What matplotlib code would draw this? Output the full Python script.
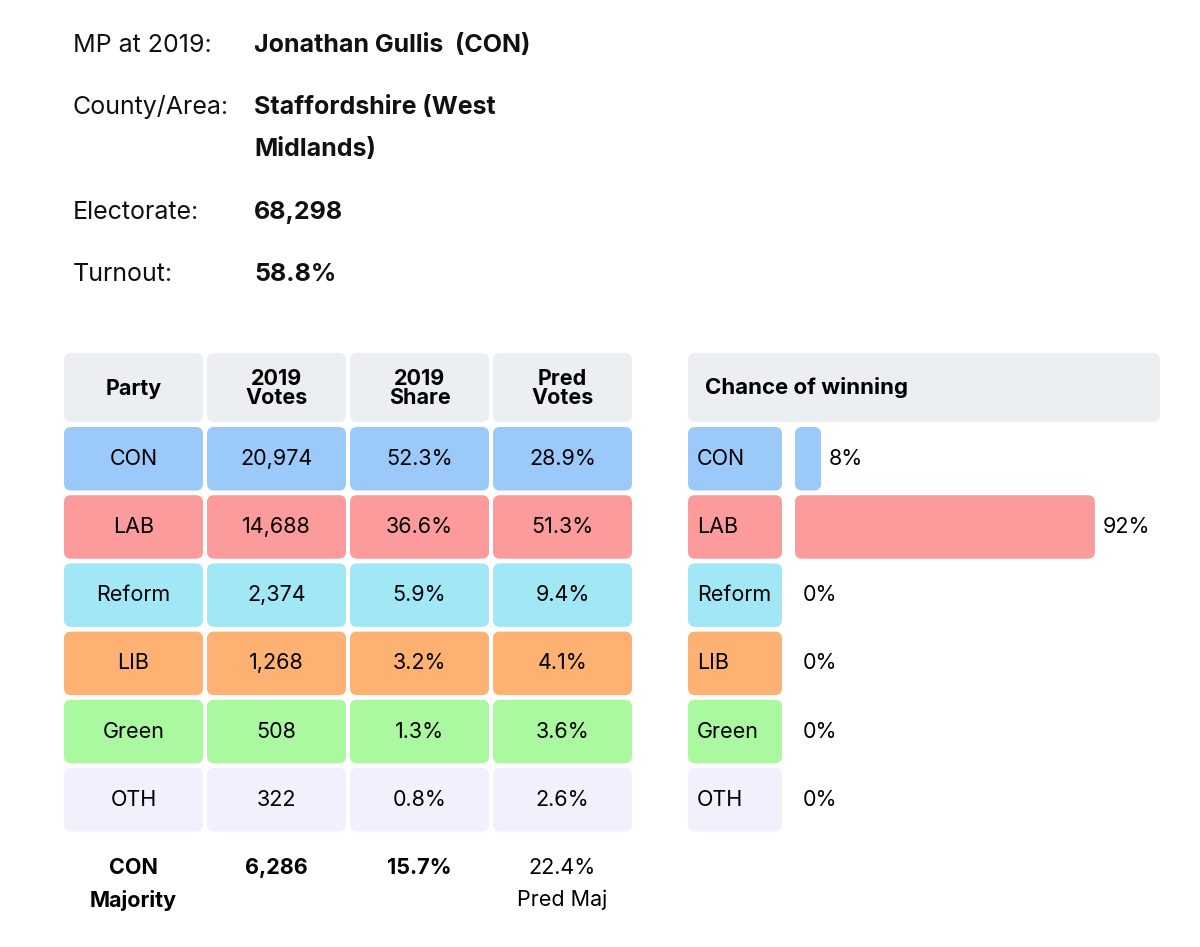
import matplotlib.pyplot as plt
from matplotlib.patches import FancyBboxPatch

plt.rcParams['font.family'] = ['Inter', 'DejaVu Sans']

# seat info
info_labels = ["MP at 2019:", "County/Area:", "Electorate:", "Turnout:"]
info_values = ["Jonathan Gullis  (CON)", "Staffordshire (West\nMidlands)", "68,298", "58.8%"]

# table data
headers = ["Party", "2019\nVotes", "2019\nShare", "Pred\nVotes"]
parties = ["CON", "LAB", "Reform", "LIB", "Green", "OTH"]
votes_2019 = ["20,974", "14,688", "2,374", "1,268", "508", "322"]
share_2019 = ["52.3%", "36.6%", "5.9%", "3.2%", "1.3%", "0.8%"]
pred_votes = ["28.9%", "51.3%", "9.4%", "4.1%", "3.6%", "2.6%"]
chance = [8, 92, 0, 0, 0, 0]
majority = ["6,286", "15.7%", "22.4%\nPred Maj"]

colors = ["#9bcafa", "#fc9b9b", "#a1e7f6", "#fdb273", "#aaf8a0", "#f3f0fd"]
header_col = "#eceff2"

W, H = 1200, 947
fig = plt.figure(figsize=(W / 100, H / 100), dpi=100)
ax = fig.add_axes([0, 0, 1, 1])
ax.set_xlim(0, W)
ax.set_ylim(H, 0)
ax.axis("off")


def box(x0, y0, w, h, color):
    ax.add_patch(FancyBboxPatch((x0, y0), w, h, boxstyle="round,pad=0,rounding_size=7",
                                fc=color, ec="none"))


# header text block
info_y = [45, 107, 212, 274]
for lab, val, y in zip(info_labels, info_values, info_y):
    ax.text(73, y, lab, fontsize=18, va="center", ha="left", color="#111")
    lines = val.split("\n")
    for k, line in enumerate(lines):
        ax.text(254, y + k * 42, line, fontsize=18, va="center", ha="left",
                fontweight="bold", color="#111")

# table
col_x = [64, 207, 350, 493]
col_w = 139
row_top = 353
head_h = 69
row_h = 63.5
pitch = 68.2
first_row = 427
fs = 15.5

for cx, htxt in zip(col_x, headers):
    box(cx, row_top, col_w, head_h, header_col)
    ax.text(cx + col_w / 2, row_top + head_h / 2 + 1, htxt, ha="center", va="center",
            fontsize=fs, fontweight="bold", linespacing=0.95)

for i, party in enumerate(parties):
    y0 = first_row + i * pitch
    cells = [party, votes_2019[i], share_2019[i], pred_votes[i]]
    for cx, txt in zip(col_x, cells):
        box(cx, y0, col_w, row_h, colors[i])
        ax.text(cx + col_w / 2, y0 + row_h / 2, txt, ha="center", va="center", fontsize=fs)

# majority row
for k, line in enumerate(["CON", "Majority"]):
    ax.text(col_x[0] + col_w / 2, 868 + k * 32, line, ha="center", va="center",
            fontsize=fs, fontweight="bold")
for j, txt in enumerate(majority):
    cx = col_x[j + 1] + col_w / 2
    lines = txt.split("\n")
    for k, line in enumerate(lines):
        ax.text(cx, 868 + k * 32, line, ha="center", va="center", fontsize=fs,
                fontweight="bold" if len(lines) == 1 else "normal")

# chance of winning panel
panel_x = 688
box(panel_x, row_top, 472, head_h, header_col)
ax.text(705, row_top + head_h / 2, "Chance of winning", ha="left", va="center",
        fontsize=16, fontweight="bold")

lab_w = 94
bar_x = 795
px_per_pct = 326 / 100
for i, party in enumerate(parties):
    y0 = first_row + i * pitch
    box(panel_x, y0, lab_w, row_h, colors[i])
    ax.text(panel_x + 9, y0 + row_h / 2, party, ha="left", va="center", fontsize=fs)
    bw = chance[i] * px_per_pct
    if bw > 0:
        box(bar_x, y0, bw, row_h, colors[i])
        tx = bar_x + bw + 8
    else:
        tx = bar_x + 8
    ax.text(tx, y0 + row_h / 2, f"{chance[i]}%", ha="left", va="center", fontsize=fs)

fig.savefig("out.png", dpi=100, facecolor="white")
